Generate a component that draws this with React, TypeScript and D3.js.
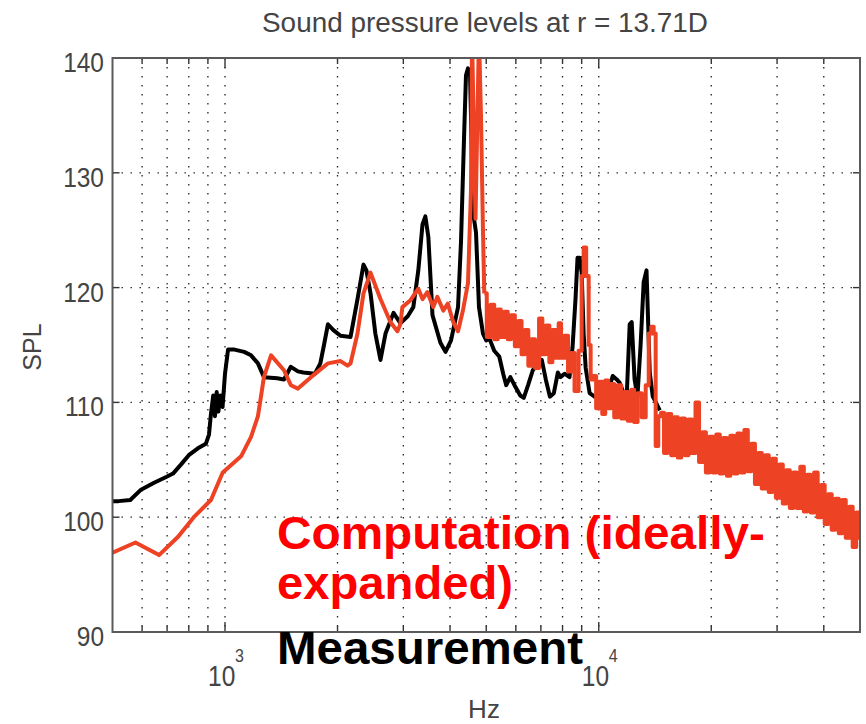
import React from "react";
import * as d3 from "d3";

// ---------- data (Hz, dB) ----------
const titleText = "Sound pressure levels at r = 13.71D";
const yTickValues = [90, 100, 110, 120, 130, 140];
const yGridValues = [100, 110, 120, 130];
const xGridValues = [600, 700, 800, 900, 1000, 2000, 3000, 4000, 5000, 6000, 7000, 8000, 9000, 10000, 20000, 30000, 40000];
const xMajorTicks = [1000, 10000];
const xMajorLabels = ["3", "4"];

const measurement: [number, number][] = [
  [500, 101.4], [519, 101.4], [558, 101.5], [596, 102.4], [646, 103.0], [696, 103.5], [726, 103.8], [763, 104.6],
  [800, 105.4], [846, 106.0], [889, 106.4], [906, 107.2], [917, 109.0], [930, 110.6], [940, 108.8], [950, 110.9],
  [960, 109.2], [972, 110.6], [985, 109.6], [1000, 112.5], [1019, 114.6], [1060, 114.6], [1125, 114.4], [1174, 114.1],
  [1225, 113.4], [1271, 112.2], [1380, 112.1], [1438, 112.0], [1500, 113.1], [1567, 112.7], [1620, 112.6], [1740, 112.5],
  [1799, 113.4], [1840, 115.0], [1885, 116.8], [1950, 116.3], [2037, 115.8], [2167, 115.7], [2262, 119.0], [2347, 122.0],
  [2390, 121.5], [2451, 119.5], [2525, 116.0], [2606, 113.7], [2688, 116.0], [2824, 117.8], [2945, 116.9], [3082, 117.5],
  [3190, 118.3], [3290, 121.5], [3376, 125.5], [3436, 126.2], [3500, 124.4], [3590, 117.6], [3770, 115.2], [3890, 114.4],
  [4025, 115.4], [4202, 118.3], [4280, 124.0], [4360, 133.0], [4413, 138.5], [4468, 139.1], [4524, 138.6], [4580, 131.0],
  [4636, 126.0], [4694, 124.8], [4781, 118.3], [4900, 116.0], [5000, 115.4], [5093, 115.6], [5252, 114.5], [5417, 114.0],
  [5550, 112.5], [5655, 111.5], [5800, 112.2], [5950, 111.5], [6166, 110.6], [6300, 110.4], [6470, 111.5], [6661, 112.8],
  [6845, 113.3], [7040, 113.7], [7215, 112.0], [7400, 110.5], [7583, 110.8], [7771, 112.6], [7900, 112.2], [8100, 112.5],
  [8352, 112.2], [8508, 114.8], [8665, 119.0], [8774, 122.6], [8889, 122.6], [9000, 121.3], [9110, 116.0], [9225, 113.0],
  [9455, 110.8], [9745, 110.5], [10062, 110.4], [10380, 110.0], [10640, 111.2], [10900, 112.3], [11170, 112.0], [11380, 111.7],
  [11660, 110.8], [11880, 110.5], [12000, 114.0], [12100, 116.8], [12250, 117.0], [12470, 112.0], [12690, 110.5], [12940, 115.0],
  [13190, 120.5], [13420, 121.5], [13690, 112.6], [13950, 110.5], [14220, 110.0], [14560, 109.3],
];

const computationLow: [number, number][] = [
  [500, 96.9], [576, 97.8], [666, 96.7], [749, 98.3], [825, 100.0], [917, 101.5], [986, 103.9], [1104, 105.3],
  [1174, 107.0], [1225, 108.8], [1271, 112.2], [1328, 114.1], [1438, 112.8], [1500, 111.5], [1567, 111.2], [1698, 112.2],
  [1885, 113.4], [2037, 113.6], [2127, 113.2], [2167, 113.4], [2262, 116.0], [2347, 119.5], [2451, 121.3], [2606, 119.0],
  [2770, 117.0], [2893, 116.2], [2945, 116.8], [2982, 118.3], [3135, 118.9], [3290, 119.9], [3376, 119.0], [3478, 119.6],
  [3608, 118.3], [3700, 119.2], [3837, 118.0], [3945, 118.6], [4080, 117.0], [4202, 116.2], [4330, 118.0], [4468, 120.4],
  [4552, 128.5], [4580, 142.0], [4680, 126.0], [4781, 142.0], [4840, 135.0], [4900, 125.0], [4940, 119.5],
];

const computationMid: [number, number][] = [
  [4940, 119.5], [5093, 115.7], [5187, 118.5], [5318, 115.5], [5417, 118.1], [5518, 115.7], [5655, 117.9], [5760, 115.5],
  [5890, 117.6], [6037, 114.9], [6166, 117.1], [6264, 114.2], [6420, 116.3], [6540, 113.2], [6661, 115.5], [6845, 113.0],
  [7000, 117.3], [7130, 114.2], [7308, 116.7], [7444, 113.5], [7583, 116.3], [7771, 113.9], [7853, 116.9], [8000, 113.9],
  [8200, 115.8], [8352, 112.7], [8508, 114.3], [8720, 111.0], [8945, 114.5], [9056, 121.0], [9168, 123.5], [9340, 121.0],
  [9455, 115.0], [9570, 112.0], [9745, 112.3], [9935, 109.5], [10125, 111.8], [10310, 109.0], [10505, 111.9], [10700, 109.5],
  [10900, 111.6], [11100, 108.7], [11380, 111.5], [11590, 108.6], [11810, 110.9], [12100, 108.4], [12330, 111.1], [12540, 108.3],
  [12870, 110.8], [13190, 108.7], [13520, 111.5], [13690, 116.0], [13950, 116.6], [14100, 116.0], [14300, 106.2], [14560, 108.8],
];

const computationHigh: [number, number][] = [
  [14800, 109.1], [15100, 105.6], [15450, 109.0], [15800, 105.4], [16100, 108.7], [16450, 105.2], [16800, 108.6], [17200, 105.4],
  [17550, 108.5], [17950, 105.6], [18350, 110.0], [18750, 104.8], [19150, 107.4], [19550, 103.9], [20000, 107.0], [20400, 103.9],
  [20850, 107.2], [21300, 103.8], [21800, 106.9], [22250, 103.6], [22750, 107.1], [23250, 103.8], [23750, 107.3], [24250, 103.9],
  [24800, 107.6], [25300, 104.0], [25900, 106.4], [26450, 102.9], [27000, 105.6], [27600, 102.5], [28200, 105.4], [28800, 102.2],
  [29450, 105.1], [30100, 101.7], [30750, 104.6], [31400, 101.2], [32100, 104.1], [32800, 100.8], [33500, 103.9], [34250, 100.8],
  [35000, 104.4], [35750, 100.5], [36500, 103.7], [37300, 100.4], [38100, 103.9], [38950, 100.0], [39800, 102.8], [40650, 99.4],
  [41550, 102.0], [42450, 98.9], [43400, 101.6], [44350, 98.6], [45300, 101.5], [46300, 98.2], [47300, 100.9], [48300, 97.4],
  [49400, 100.4], [50000, 98.2],
];

const legendComputation1 = "Computation (ideally-";
const legendComputation2 = "expanded)";
const legendMeasurement = "Measurement";

// ---------- component ----------
const W = 866;
const H = 724;
const L = 112.5, R = 860, T = 58, B = 632;
const axisFont = "Helvetica, 'Liberation Sans', Arial, sans-serif";
const axisColor = "#444";
const redLine = "#EE4224";

export default function App() {
  const x = d3.scaleLog().domain([500, 50000]).range([L, R]);
  const y = d3.scaleLinear().domain([90, 140]).range([B, T]);
  const line = d3
    .line<[number, number]>()
    .x((d) => x(d[0]))
    .y((d) => y(d[1]))
    .curve(d3.curveLinear);
  const stepLine = d3
    .line<[number, number]>()
    .x((d) => x(d[0]))
    .y((d) => y(d[1]))
    .curve(d3.curveStep);

  return (
    <svg
      width={W}
      height={H}
      style={{ position: "absolute", left: 0, top: 0, background: "#fff" }}
      xmlns="http://www.w3.org/2000/svg"
    >
      <rect x={0} y={0} width={W} height={H} fill="#fff" />
      <defs>
        <clipPath id="plotClip">
          <rect x={L} y={T} width={R - L} height={B - T} />
        </clipPath>
      </defs>

      {/* grid */}
      <g stroke="#222" strokeWidth={1.3} strokeDasharray="1.4,7.6">
        {xGridValues.map((v) => (
          <line key={"gx" + v} x1={x(v)} x2={x(v)} y1={T} y2={B} />
        ))}
        {yGridValues.map((v) => (
          <line key={"gy" + v} x1={L} x2={R} y1={y(v)} y2={y(v)} />
        ))}
      </g>

      {/* ticks */}
      <g stroke="#333" strokeWidth={1.4}>
        {xGridValues.map((v) => {
          const len = xMajorTicks.includes(v) ? 10 : 6;
          return (
            <g key={"tx" + v}>
              <line x1={x(v)} x2={x(v)} y1={B} y2={B - len} />
              <line x1={x(v)} x2={x(v)} y1={T} y2={T + len} />
            </g>
          );
        })}
        {yTickValues.map((v) => (
          <g key={"ty" + v}>
            <line x1={L} x2={L + 7} y1={y(v)} y2={y(v)} />
            <line x1={R} x2={R - 7} y1={y(v)} y2={y(v)} />
          </g>
        ))}
      </g>

      {/* data lines */}
      <g clipPath="url(#plotClip)" fill="none" strokeLinejoin="round" strokeLinecap="butt">
        <path d={line(measurement) || ""} stroke="#000" strokeWidth={4} />
        <path d={line(computationLow) || ""} stroke={redLine} strokeWidth={4} />
        <path d={stepLine(computationMid) || ""} stroke={redLine} strokeWidth={4} />
        <path d={stepLine([computationMid[computationMid.length - 1], ...computationHigh]) || ""} stroke={redLine} strokeWidth={4} />
      </g>

      {/* frame */}
      <rect x={L} y={T} width={R - L} height={B - T} fill="none" stroke="#5a5a5a" strokeWidth={2} />

      {/* y tick labels */}
      <g fontFamily={axisFont} fontSize={24.5} fill={axisColor}>
        {yTickValues.map((v) => (
          <text key={"ly" + v} textAnchor="end" transform={`translate(104,${y(v) + 14}) scale(1,1.15)`}>
            {v}
          </text>
        ))}
      </g>

      {/* x tick labels */}
      <g fontFamily={axisFont} fill={axisColor}>
        {xMajorTicks.map((v, i) => (
          <g key={"lx" + v}>
            <text fontSize={24.5} transform={`translate(${x(v) - 17},686) scale(1,1.2)`}>
              10
            </text>
            <text fontSize={16} transform={`translate(${x(v) + 10},662) scale(1,1.2)`}>
              {xMajorLabels[i]}
            </text>
          </g>
        ))}
      </g>

      {/* axis titles */}
      <text
        x={485}
        y={32}
        fontFamily={axisFont}
        fontSize={27}
        fill={axisColor}
        textAnchor="middle"
        textLength={446}
        lengthAdjust="spacingAndGlyphs"
      >
        {titleText}
      </text>
      <text x={484} y={718} fontFamily={axisFont} fontSize={26} fill={axisColor} textAnchor="middle">
        Hz
      </text>
      <text
        transform="translate(41,347) rotate(-90)"
        fontFamily={axisFont}
        fontSize={25}
        fill={axisColor}
        textAnchor="middle"
      >
        SPL
      </text>

      {/* legend texts */}
      <g fontFamily="'Liberation Sans', Arial, sans-serif" fontWeight="bold" fontSize={46}>
        <text x={277} y={549} fill="#FF0000" textLength={488} lengthAdjust="spacingAndGlyphs">
          {legendComputation1}
        </text>
        <text x={277} y={599} fill="#FF0000" textLength={236} lengthAdjust="spacingAndGlyphs">
          {legendComputation2}
        </text>
        <text x={277} y={664} fill="#000" textLength={306} lengthAdjust="spacingAndGlyphs">
          {legendMeasurement}
        </text>
      </g>
    </svg>
  );
}
